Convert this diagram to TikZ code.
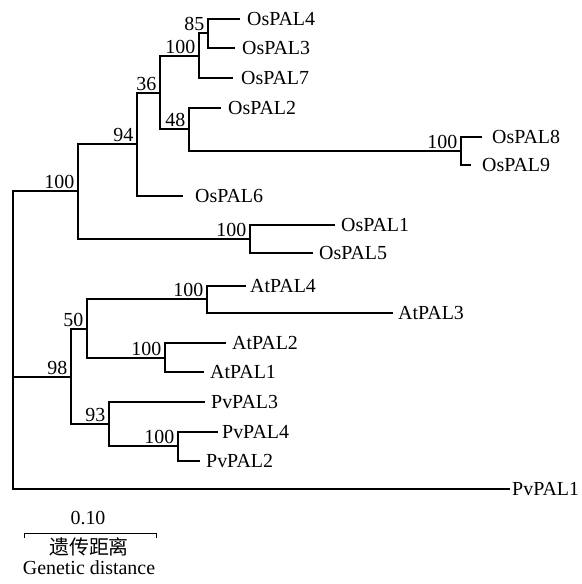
\documentclass[tikz,border=0pt]{standalone}
\usepackage{fontspec}
\setmainfont{Liberation Serif}
\newfontfamily\cjk{Noto Sans CJK SC}
\begin{document}
\begin{tikzpicture}[x=1bp,y=-1bp,
  br/.style={line width=1.7bp},
  leaflab/.style={anchor=west,inner sep=0pt,font=\fontsize{20}{24}\selectfont},
  bs/.style={anchor=south east,inner sep=0pt,xshift=-3.5bp,yshift=2.5bp,font=\fontsize{20}{24}\selectfont},
  sbtext/.style={inner sep=0pt,font=\fontsize{20}{24}\selectfont}]
\useasboundingbox (0,0) rectangle (582,584);
% internal nodes
\coordinate (root) at (13,377);
\coordinate (nA) at (78,191);
\coordinate (nB) at (137,144);
\coordinate (nC) at (160,93);
\coordinate (nD) at (199,56);
\coordinate (nE) at (208,33);
\coordinate (nF) at (189,129);
\coordinate (nG) at (461,151);
\coordinate (nH) at (250,239);
\coordinate (nI) at (71,377);
\coordinate (nJ) at (87,329);
\coordinate (nK) at (207,299);
\coordinate (nL) at (165,358);
\coordinate (nM) at (109,424);
\coordinate (nN) at (178,446);
% leaves (branch ends)
\coordinate (lOs4) at (240,19);
\coordinate (lOs3) at (235,48);
\coordinate (lOs7) at (233,78);
\coordinate (lOs2) at (221,108);
\coordinate (lOs8) at (482,137);
\coordinate (lOs9) at (471,165);
\coordinate (lOs6) at (183,196);
\coordinate (lOs1) at (335,225);
\coordinate (lOs5) at (313,253);
\coordinate (lAt4) at (246,286);
\coordinate (lAt3) at (393,313);
\coordinate (lAt2) at (226,343);
\coordinate (lAt1) at (204,372);
\coordinate (lPv3) at (205,402);
\coordinate (lPv4) at (218,432);
\coordinate (lPv2) at (200,461);
\coordinate (lPv1) at (510,489);
% leaf labels
\node[leaflab] (tOs4) at ([xshift=7bp]lOs4) {OsPAL4};
\node[leaflab] (tOs3) at ([xshift=7bp]lOs3) {OsPAL3};
\node[leaflab] (tOs7) at ([xshift=8bp]lOs7) {OsPAL7};
\node[leaflab] (tOs2) at ([xshift=7bp]lOs2) {OsPAL2};
\node[leaflab] (tOs8) at ([xshift=10bp]lOs8) {OsPAL8};
\node[leaflab] (tOs9) at ([xshift=11bp]lOs9) {OsPAL9};
\node[leaflab] (tOs6) at ([xshift=12bp]lOs6) {OsPAL6};
\node[leaflab] (tOs1) at ([xshift=6bp]lOs1) {OsPAL1};
\node[leaflab] (tOs5) at ([xshift=6bp]lOs5) {OsPAL5};
\node[leaflab] (tAt4) at ([xshift=4bp]lAt4) {AtPAL4};
\node[leaflab] (tAt3) at ([xshift=5bp]lAt3) {AtPAL3};
\node[leaflab] (tAt2) at ([xshift=6bp]lAt2) {AtPAL2};
\node[leaflab] (tAt1) at ([xshift=6bp]lAt1) {AtPAL1};
\node[leaflab] (tPv3) at ([xshift=6bp]lPv3) {PvPAL3};
\node[leaflab] (tPv4) at ([xshift=4bp]lPv4) {PvPAL4};
\node[leaflab] (tPv2) at ([xshift=6bp]lPv2) {PvPAL2};
\node[leaflab] (tPv1) at ([xshift=2bp]lPv1) {PvPAL1};
% branches
\draw[br] (root) |- (nA);
\draw[br] (root) |- (lPv1);
\draw[br] (root) -- (nI);
\draw[br] (nA) |- (nB);
\draw[br] (nA) |- (nH);
\draw[br] (nB) |- (nC);
\draw[br] (nB) |- (lOs6);
\draw[br] (nC) |- (nD);
\draw[br] (nC) |- (nF);
\draw[br] (nD) |- (nE);
\draw[br] (nD) |- (lOs7);
\draw[br] (nE) |- (lOs4);
\draw[br] (nE) |- (lOs3);
\draw[br] (nF) |- (lOs2);
\draw[br] (nF) |- (nG);
\draw[br] (nG) |- (lOs8);
\draw[br] (nG) |- (lOs9);
\draw[br] (nH) |- (lOs1);
\draw[br] (nH) |- (lOs5);
\draw[br] (nI) |- (nJ);
\draw[br] (nI) |- (nM);
\draw[br] (nJ) |- (nK);
\draw[br] (nJ) |- (nL);
\draw[br] (nK) |- (lAt4);
\draw[br] (nK) |- (lAt3);
\draw[br] (nL) |- (lAt2);
\draw[br] (nL) |- (lAt1);
\draw[br] (nM) |- (lPv3);
\draw[br] (nM) |- (nN);
\draw[br] (nN) |- (lPv4);
\draw[br] (nN) |- (lPv2);
% bootstrap values
\node[bs] (bA) at (nA) {100};
\node[bs] (bB) at (nB) {94};
\node[bs] (bC) at (nC) {36};
\node[bs] (bD) at (nD) {100};
\node[bs] (bE) at (nE) {85};
\node[bs] (bF) at (nF) {48};
\node[bs] (bG) at (nG) {100};
\node[bs] (bH) at (nH) {100};
\node[bs] (bI) at (nI) {98};
\node[bs] (bJ) at (nJ) {50};
\node[bs] (bK) at (nK) {100};
\node[bs] (bL) at (nL) {100};
\node[bs] (bM) at (nM) {93};
\node[bs] (bN) at (nN) {100};
% scale bar
\coordinate (sbL) at (24,533);
\coordinate (sbR) at (156,533);
\draw[line width=1bp] ([yshift=-5bp]sbL) -- (sbL) -- (sbR) -- ([yshift=-5bp]sbR);
\node[sbtext,anchor=base] (sbv) at (88,524) {0.10};
\node[sbtext] (sbcn) at (89,547) {\cjk 遗传距离};
\node[sbtext,anchor=base] (sben) at (89,574) {Genetic distance};
\end{tikzpicture}
\end{document}
